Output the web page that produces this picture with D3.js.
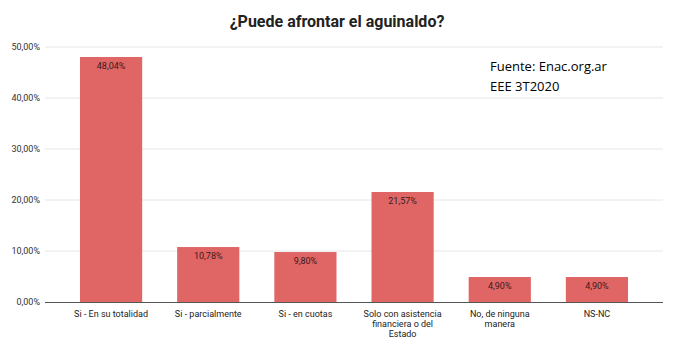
<!DOCTYPE html>
<html><head><meta charset="utf-8">
<script src="https://cdn.jsdelivr.net/npm/d3@7"></script>
<style>body{margin:0;background:#fff}</style>
</head><body>
<script>
const categories = ["Si - En su totalidad","Si - parcialmente","Si - en cuotas","Solo con asistencia financiera o del Estado","No, de ninguna manera","NS-NC"];
const categoryLines = [["Si - En su totalidad"],["Si - parcialmente"],["Si - en cuotas"],["Solo con asistencia","financiera o del","Estado"],["No, de ninguna","manera"],["NS-NC"]];
const values = [48.04,10.78,9.80,21.57,4.90,4.90];
const yTicks = [0,10,20,30,40,50];
const title = "¿Puede afrontar el aguinaldo?";
const source = ["Fuente: Enac.org.ar","EEE 3T2020"];

const W=678,H=348;
const svg=d3.select("body").append("svg").attr("width",W).attr("height",H);
svg.append("rect").attr("width",W).attr("height",H).attr("fill","#fff");
const x=d3.scaleBand().domain(categories).range([45,663]).paddingInner(0.36).paddingOuter(0.36);
const y=d3.scaleLinear().domain([0,50]).range([302,47]);
const fmt=v=>v.toFixed(2).replace(".",",")+"%";

// grid
svg.append("g").selectAll("line").data(yTicks.slice(1)).join("line")
  .attr("x1",45).attr("x2",663).attr("y1",d=>y(d)).attr("y2",d=>y(d))
  .attr("stroke","#e6e6e6").attr("stroke-width",1);
// y labels
svg.append("g").selectAll("text").data(yTicks).join("text")
  .attr("x",40).attr("y",d=>y(d)+3).attr("text-anchor","end")
  .attr("font-family","Roboto, Arial, sans-serif").attr("font-size",9).attr("fill","#333")
  .text(d=>fmt(d));
// bars
svg.append("g").selectAll("rect").data(values).join("rect")
  .attr("x",(d,i)=>x(categories[i])).attr("width",x.bandwidth())
  .attr("y",d=>y(d)).attr("height",d=>y(0)-y(d)).attr("fill","#e06666");
// value labels
svg.append("g").selectAll("text").data(values).join("text")
  .attr("x",(d,i)=>x(categories[i])+x.bandwidth()/2).attr("y",d=>y(d)+12)
  .attr("text-anchor","middle").attr("font-family","Roboto, Arial, sans-serif")
  .attr("font-size",9).attr("fill","#3a1a1a").text(d=>fmt(d));
// axis line
svg.append("line").attr("x1",45).attr("x2",663).attr("y1",y(0)+0.5).attr("y2",y(0)+0.5)
  .attr("stroke","#555").attr("stroke-width",1);
// x labels
const xl=svg.append("g").selectAll("text").data(categoryLines).join("text")
  .attr("text-anchor","middle").attr("font-family","Roboto, Arial, sans-serif")
  .attr("font-size",9).attr("fill","#222")
  .attr("transform",(d,i)=>`translate(${x(categories[i])+x.bandwidth()/2},${y(0)+15})`);
xl.selectAll("tspan").data(d=>d).join("tspan").attr("x",0).attr("dy",(d,j)=>j?10:0).text(d=>d);
// title
svg.append("text").attr("x",337).attr("y",27).attr("text-anchor","middle")
  .attr("font-family","Roboto, Arial, sans-serif").attr("font-weight","bold").attr("font-size",16)
  .attr("fill","#222").text(title);
// source
svg.append("g").selectAll("text").data(source).join("text")
  .attr("x",490).attr("y",(d,i)=>71+i*20).attr("font-family","'Open Sans', Calibri, sans-serif")
  .attr("font-size",13).attr("fill","#000").text(d=>d);
</script>
</body></html>
